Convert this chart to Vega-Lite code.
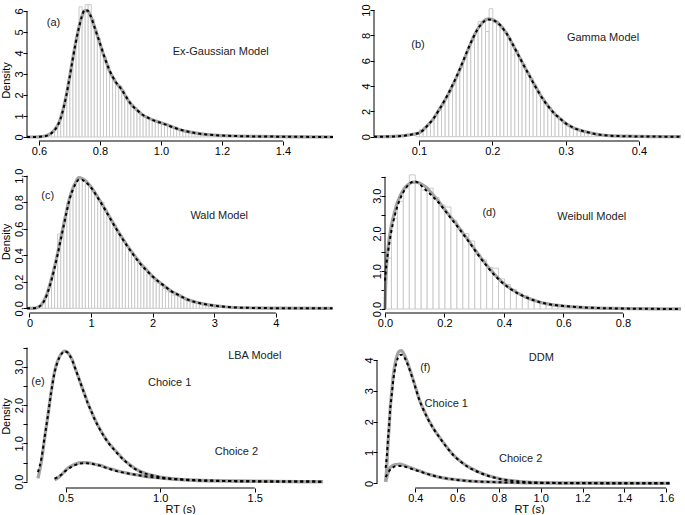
{
"$schema":"https://vega.github.io/schema/vega-lite/v6.json",
"padding":0,
"spacing":12,
"config":{
 "view":{"stroke":null},
 "font":"Liberation Sans",
 "axis":{"grid":false,"domain":false,"ticks":true,"tickColor":"black","tickSize":4,"tickWidth":1,"labelFont":"Liberation Sans","labelFontSize":11,"labelColor":"black","labelPadding":1,"labelOverlap":false,"labelFlush":false,"titleFont":"Liberation Sans","titleFontSize":11,"titleFontWeight":"normal","titleColor":"black"},
 "axisY":{"labelAngle":270,"labelAlign":"center","labelBaseline":"alphabetic","titlePadding":2,"labelOverlap":false},
 "axisX":{"labelAngle":0,"titlePadding":0,"labelPadding":0,"labelOverlap":false},
 "text":{"font":"Liberation Sans","fontSize":11,"color":"#222","align":"center","baseline":"middle"}
},
"datasets":{
 "ab":[{"b":0.62,"h":0.08},{"b":0.63,"h":0.15},{"b":0.64,"h":0.25},{"b":0.65,"h":0.45},{"b":0.66,"h":0.7},{"b":0.67,"h":1.1},{"b":0.68,"h":1.7},{"b":0.69,"h":2.4},{"b":0.7,"h":3.2},{"b":0.71,"h":4.1},{"b":0.72,"h":4.8},{"b":0.73,"h":6.2},{"b":0.74,"h":5.9},{"b":0.75,"h":6.3},{"b":0.76,"h":6.3},{"b":0.77,"h":5.6},{"b":0.78,"h":5.1},{"b":0.79,"h":4.7},{"b":0.8,"h":4.2},{"b":0.81,"h":3.8},{"b":0.82,"h":3.4},{"b":0.83,"h":3.0},{"b":0.84,"h":2.8},{"b":0.85,"h":2.55},{"b":0.86,"h":2.45},{"b":0.87,"h":2.2},{"b":0.88,"h":1.95},{"b":0.89,"h":1.7},{"b":0.9,"h":1.55},{"b":0.91,"h":1.4},{"b":0.92,"h":1.25},{"b":0.93,"h":1.1},{"b":0.94,"h":1.0},{"b":0.95,"h":0.92},{"b":0.96,"h":0.85},{"b":0.97,"h":0.8},{"b":0.98,"h":0.75},{"b":0.99,"h":0.7},{"b":1.0,"h":0.65},{"b":1.01,"h":0.6},{"b":1.02,"h":0.52},{"b":1.03,"h":0.46},{"b":1.04,"h":0.42},{"b":1.05,"h":0.36},{"b":1.06,"h":0.32},{"b":1.07,"h":0.28},{"b":1.08,"h":0.25},{"b":1.09,"h":0.22},{"b":1.1,"h":0.2},{"b":1.11,"h":0.17},{"b":1.12,"h":0.15},{"b":1.13,"h":0.12},{"b":1.14,"h":0.1},{"b":1.15,"h":0.09},{"b":1.16,"h":0.08},{"b":1.17,"h":0.06},{"b":1.18,"h":0.05},{"b":1.19,"h":0.04}],
 "ac":[{"x":0.561,"s":0,"d":0},{"x":0.6,"s":0.01,"d":0.01},{"x":0.62,"s":0.05,"d":0.04},{"x":0.64,"s":0.18,"d":0.17},{"x":0.65,"s":0.32,"d":0.3},{"x":0.66,"s":0.52,"d":0.5},{"x":0.67,"s":0.85,"d":0.84},{"x":0.68,"s":1.35,"d":1.33},{"x":0.69,"s":2.0,"d":1.98},{"x":0.7,"s":2.8,"d":2.78},{"x":0.71,"s":3.65,"d":3.62},{"x":0.72,"s":4.45,"d":4.44},{"x":0.73,"s":5.15,"d":5.13},{"x":0.74,"s":5.7,"d":5.7},{"x":0.75,"s":6.02,"d":6.05},{"x":0.76,"s":6.0,"d":6.02},{"x":0.77,"s":5.75,"d":5.75},{"x":0.78,"s":5.35,"d":5.33},{"x":0.79,"s":4.9,"d":4.9},{"x":0.8,"s":4.45,"d":4.47},{"x":0.81,"s":4.0,"d":4.02},{"x":0.82,"s":3.6,"d":3.6},{"x":0.83,"s":3.2,"d":3.22},{"x":0.84,"s":2.9,"d":2.92},{"x":0.85,"s":2.65,"d":2.66},{"x":0.86,"s":2.45,"d":2.47},{"x":0.87,"s":2.3,"d":2.28},{"x":0.88,"s":2.05,"d":2.06},{"x":0.89,"s":1.8,"d":1.82},{"x":0.9,"s":1.6,"d":1.6},{"x":0.92,"s":1.3,"d":1.3},{"x":0.94,"s":1.05,"d":1.06},{"x":0.96,"s":0.9,"d":0.9},{"x":0.98,"s":0.78,"d":0.77},{"x":1.0,"s":0.68,"d":0.67},{"x":1.02,"s":0.58,"d":0.57},{"x":1.04,"s":0.46,"d":0.46},{"x":1.06,"s":0.36,"d":0.36},{"x":1.08,"s":0.28,"d":0.29},{"x":1.1,"s":0.22,"d":0.22},{"x":1.12,"s":0.17,"d":0.17},{"x":1.15,"s":0.12,"d":0.12},{"x":1.2,"s":0.07,"d":0.07},{"x":1.25,"s":0.045,"d":0.045},{"x":1.3,"s":0.03,"d":0.03},{"x":1.4,"s":0.015,"d":0.015},{"x":1.5,"s":0.005,"d":0.005},{"x":1.564,"s":0,"d":0}],
 "bb":[{"b":0.095,"h":0.3},{"b":0.1,"h":0.55},{"b":0.105,"h":0.7},{"b":0.11,"h":0.95},{"b":0.115,"h":1.3},{"b":0.12,"h":1.7},{"b":0.125,"h":2.1},{"b":0.13,"h":2.6},{"b":0.135,"h":3.1},{"b":0.14,"h":3.6},{"b":0.145,"h":4.3},{"b":0.15,"h":4.9},{"b":0.155,"h":5.5},{"b":0.16,"h":6.3},{"b":0.165,"h":6.9},{"b":0.17,"h":7.6},{"b":0.175,"h":8.2},{"b":0.18,"h":9.1},{"b":0.185,"h":9.1},{"b":0.19,"h":8.3},{"b":0.195,"h":10.1},{"b":0.2,"h":9.0},{"b":0.205,"h":8.8},{"b":0.21,"h":8.7},{"b":0.215,"h":8.3},{"b":0.22,"h":7.8},{"b":0.225,"h":7.3},{"b":0.23,"h":6.8},{"b":0.235,"h":6.2},{"b":0.24,"h":5.7},{"b":0.245,"h":5.1},{"b":0.25,"h":4.6},{"b":0.255,"h":4.1},{"b":0.26,"h":3.6},{"b":0.265,"h":3.1},{"b":0.27,"h":2.7},{"b":0.275,"h":2.3},{"b":0.28,"h":2.0},{"b":0.285,"h":1.7},{"b":0.29,"h":1.4},{"b":0.295,"h":1.2},{"b":0.3,"h":0.95},{"b":0.305,"h":0.8},{"b":0.31,"h":0.65},{"b":0.315,"h":0.55},{"b":0.32,"h":0.45},{"b":0.325,"h":0.38},{"b":0.33,"h":0.3},{"b":0.335,"h":0.25},{"b":0.34,"h":0.2}],
 "bc":[{"x":0.0386,"s":0,"d":0},{"x":0.06,"s":0.01,"d":0.01},{"x":0.08,"s":0.08,"d":0.08},{"x":0.085,"s":0.12,"d":0.12},{"x":0.09,"s":0.17,"d":0.17},{"x":0.095,"s":0.22,"d":0.22},{"x":0.1,"s":0.3,"d":0.3},{"x":0.105,"s":0.5,"d":0.48},{"x":0.11,"s":0.8,"d":0.78},{"x":0.115,"s":1.1,"d":1.1},{"x":0.12,"s":1.45,"d":1.45},{"x":0.125,"s":1.9,"d":1.9},{"x":0.13,"s":2.35,"d":2.37},{"x":0.135,"s":2.85,"d":2.88},{"x":0.14,"s":3.35,"d":3.4},{"x":0.145,"s":3.95,"d":4.0},{"x":0.15,"s":4.55,"d":4.6},{"x":0.155,"s":5.2,"d":5.25},{"x":0.16,"s":5.9,"d":5.95},{"x":0.165,"s":6.6,"d":6.65},{"x":0.17,"s":7.3,"d":7.33},{"x":0.175,"s":7.95,"d":7.95},{"x":0.18,"s":8.5,"d":8.5},{"x":0.185,"s":8.9,"d":8.88},{"x":0.19,"s":9.2,"d":9.15},{"x":0.195,"s":9.3,"d":9.25},{"x":0.2,"s":9.25,"d":9.22},{"x":0.205,"s":9.1,"d":9.08},{"x":0.21,"s":8.85,"d":8.85},{"x":0.215,"s":8.5,"d":8.5},{"x":0.22,"s":8.1,"d":8.1},{"x":0.225,"s":7.6,"d":7.6},{"x":0.23,"s":7.05,"d":7.05},{"x":0.235,"s":6.5,"d":6.5},{"x":0.24,"s":5.95,"d":5.95},{"x":0.245,"s":5.4,"d":5.4},{"x":0.25,"s":4.9,"d":4.88},{"x":0.255,"s":4.35,"d":4.33},{"x":0.26,"s":3.85,"d":3.83},{"x":0.265,"s":3.35,"d":3.33},{"x":0.27,"s":2.9,"d":2.88},{"x":0.275,"s":2.5,"d":2.48},{"x":0.28,"s":2.15,"d":2.13},{"x":0.285,"s":1.8,"d":1.8},{"x":0.29,"s":1.55,"d":1.55},{"x":0.295,"s":1.3,"d":1.3},{"x":0.3,"s":1.05,"d":1.05},{"x":0.305,"s":0.88,"d":0.88},{"x":0.31,"s":0.72,"d":0.72},{"x":0.315,"s":0.6,"d":0.6},{"x":0.32,"s":0.5,"d":0.5},{"x":0.325,"s":0.42,"d":0.42},{"x":0.33,"s":0.35,"d":0.35},{"x":0.34,"s":0.22,"d":0.22},{"x":0.35,"s":0.13,"d":0.13},{"x":0.36,"s":0.08,"d":0.08},{"x":0.38,"s":0.04,"d":0.04},{"x":0.4,"s":0.02,"d":0.02},{"x":0.43,"s":0.005,"d":0.005},{"x":0.4574,"s":0,"d":0}],
 "cb":[{"b":0.15,"h":0.02},{"b":0.2,"h":0.05},{"b":0.25,"h":0.1},{"b":0.3,"h":0.17},{"b":0.35,"h":0.26},{"b":0.4,"h":0.35},{"b":0.45,"h":0.56},{"b":0.5,"h":0.58},{"b":0.55,"h":0.68},{"b":0.6,"h":0.79},{"b":0.65,"h":0.86},{"b":0.7,"h":0.93},{"b":0.75,"h":0.98},{"b":0.8,"h":0.98},{"b":0.85,"h":0.97},{"b":0.9,"h":0.94},{"b":0.95,"h":0.92},{"b":1.0,"h":0.88},{"b":1.05,"h":0.85},{"b":1.1,"h":0.81},{"b":1.15,"h":0.8},{"b":1.2,"h":0.75},{"b":1.25,"h":0.7},{"b":1.3,"h":0.66},{"b":1.35,"h":0.63},{"b":1.4,"h":0.58},{"b":1.45,"h":0.55},{"b":1.5,"h":0.5},{"b":1.55,"h":0.47},{"b":1.6,"h":0.44},{"b":1.65,"h":0.41},{"b":1.7,"h":0.38},{"b":1.75,"h":0.34},{"b":1.8,"h":0.31},{"b":1.85,"h":0.29},{"b":1.9,"h":0.26},{"b":1.95,"h":0.23},{"b":2.0,"h":0.2},{"b":2.05,"h":0.19},{"b":2.1,"h":0.17},{"b":2.15,"h":0.15},{"b":2.2,"h":0.13},{"b":2.25,"h":0.12},{"b":2.3,"h":0.1},{"b":2.35,"h":0.095},{"b":2.4,"h":0.09},{"b":2.45,"h":0.08},{"b":2.5,"h":0.065},{"b":2.55,"h":0.055},{"b":2.6,"h":0.05},{"b":2.65,"h":0.045},{"b":2.7,"h":0.04},{"b":2.75,"h":0.035},{"b":2.8,"h":0.03},{"b":2.85,"h":0.025},{"b":2.9,"h":0.02},{"b":2.95,"h":0.02},{"b":3.0,"h":0.015}],
 "cc":[{"x":-0.04,"s":0,"d":0},{"x":0.1,"s":0.002,"d":0.002},{"x":0.15,"s":0.01,"d":0.01},{"x":0.2,"s":0.03,"d":0.03},{"x":0.25,"s":0.07,"d":0.065},{"x":0.3,"s":0.13,"d":0.125},{"x":0.35,"s":0.21,"d":0.2},{"x":0.4,"s":0.3,"d":0.29},{"x":0.45,"s":0.4,"d":0.39},{"x":0.5,"s":0.51,"d":0.5},{"x":0.55,"s":0.62,"d":0.61},{"x":0.6,"s":0.73,"d":0.72},{"x":0.65,"s":0.83,"d":0.82},{"x":0.7,"s":0.9,"d":0.89},{"x":0.75,"s":0.95,"d":0.94},{"x":0.8,"s":0.985,"d":0.97},{"x":0.85,"s":0.98,"d":0.97},{"x":0.9,"s":0.965,"d":0.955},{"x":1.0,"s":0.915,"d":0.91},{"x":1.1,"s":0.845,"d":0.84},{"x":1.2,"s":0.77,"d":0.765},{"x":1.3,"s":0.69,"d":0.685},{"x":1.4,"s":0.61,"d":0.605},{"x":1.5,"s":0.535,"d":0.53},{"x":1.6,"s":0.465,"d":0.46},{"x":1.7,"s":0.4,"d":0.395},{"x":1.8,"s":0.34,"d":0.335},{"x":1.9,"s":0.29,"d":0.285},{"x":2.0,"s":0.24,"d":0.24},{"x":2.1,"s":0.2,"d":0.2},{"x":2.2,"s":0.165,"d":0.165},{"x":2.3,"s":0.13,"d":0.13},{"x":2.4,"s":0.105,"d":0.105},{"x":2.5,"s":0.08,"d":0.08},{"x":2.6,"s":0.06,"d":0.06},{"x":2.8,"s":0.035,"d":0.035},{"x":3.0,"s":0.02,"d":0.02},{"x":3.2,"s":0.01,"d":0.01},{"x":3.5,"s":0.004,"d":0.004},{"x":4.0,"s":0.001,"d":0.001},{"x":4.92,"s":0,"d":0}],
 "db":[{"b":0,"h":1.35},{"b":0.02,"h":2.4},{"b":0.04,"h":2.85},{"b":0.06,"h":3.2},{"b":0.08,"h":3.55},{"b":0.1,"h":3.35},{"b":0.12,"h":3.15},{"b":0.14,"h":3.2},{"b":0.16,"h":2.95},{"b":0.18,"h":2.75},{"b":0.2,"h":2.7},{"b":0.22,"h":2.35},{"b":0.24,"h":2.1},{"b":0.26,"h":2.0},{"b":0.28,"h":1.8},{"b":0.3,"h":1.45},{"b":0.32,"h":1.3},{"b":0.34,"h":1.1},{"b":0.36,"h":1.08},{"b":0.38,"h":0.8},{"b":0.4,"h":0.65},{"b":0.42,"h":0.52},{"b":0.44,"h":0.42},{"b":0.46,"h":0.35},{"b":0.48,"h":0.28},{"b":0.5,"h":0.22},{"b":0.52,"h":0.17},{"b":0.54,"h":0.14},{"b":0.56,"h":0.11},{"b":0.58,"h":0.09},{"b":0.6,"h":0.07},{"b":0.62,"h":0.06},{"b":0.64,"h":0.04},{"b":0.66,"h":0.03},{"b":0.68,"h":0.025}],
 "dc":[{"x":0,"s":0,"d":0.75},{"x":0.002,"s":0.6,"d":0.95},{"x":0.005,"s":1.1,"d":1.2},{"x":0.01,"s":1.6,"d":1.5},{"x":0.02,"s":2.15,"d":2.0},{"x":0.03,"s":2.5,"d":2.38},{"x":0.04,"s":2.78,"d":2.68},{"x":0.05,"s":2.98,"d":2.9},{"x":0.06,"s":3.13,"d":3.07},{"x":0.07,"s":3.24,"d":3.2},{"x":0.08,"s":3.31,"d":3.3},{"x":0.09,"s":3.35,"d":3.36},{"x":0.1,"s":3.36,"d":3.38},{"x":0.11,"s":3.35,"d":3.35},{"x":0.12,"s":3.32,"d":3.28},{"x":0.13,"s":3.27,"d":3.2},{"x":0.14,"s":3.21,"d":3.13},{"x":0.15,"s":3.13,"d":3.06},{"x":0.16,"s":3.04,"d":2.98},{"x":0.18,"s":2.85,"d":2.82},{"x":0.2,"s":2.64,"d":2.62},{"x":0.22,"s":2.44,"d":2.42},{"x":0.24,"s":2.25,"d":2.22},{"x":0.26,"s":2.03,"d":2.01},{"x":0.28,"s":1.82,"d":1.8},{"x":0.3,"s":1.6,"d":1.58},{"x":0.32,"s":1.38,"d":1.36},{"x":0.34,"s":1.18,"d":1.16},{"x":0.36,"s":0.99,"d":0.97},{"x":0.38,"s":0.82,"d":0.8},{"x":0.4,"s":0.67,"d":0.66},{"x":0.42,"s":0.55,"d":0.54},{"x":0.44,"s":0.45,"d":0.44},{"x":0.46,"s":0.36,"d":0.36},{"x":0.48,"s":0.29,"d":0.29},{"x":0.5,"s":0.23,"d":0.23},{"x":0.52,"s":0.18,"d":0.18},{"x":0.55,"s":0.13,"d":0.13},{"x":0.6,"s":0.08,"d":0.08},{"x":0.65,"s":0.05,"d":0.05},{"x":0.7,"s":0.03,"d":0.03},{"x":0.8,"s":0.012,"d":0.012},{"x":0.9,"s":0.004,"d":0.004},{"x":0.995,"s":0.001,"d":0.001}],
 "ec":[{"c":1,"x":0.353,"s":0.09,"d":0.25},{"c":1,"x":0.371,"s":0.52,"d":0.6},{"c":1,"x":0.388,"s":1.13,"d":1.15},{"c":1,"x":0.406,"s":1.74,"d":1.74},{"c":1,"x":0.423,"s":2.35,"d":2.33},{"c":1,"x":0.441,"s":2.87,"d":2.85},{"c":1,"x":0.455,"s":3.12,"d":3.1},{"c":1,"x":0.467,"s":3.26,"d":3.25},{"c":1,"x":0.48,"s":3.36,"d":3.35},{"c":1,"x":0.494,"s":3.41,"d":3.4},{"c":1,"x":0.507,"s":3.39,"d":3.38},{"c":1,"x":0.52,"s":3.31,"d":3.3},{"c":1,"x":0.535,"s":3.17,"d":3.16},{"c":1,"x":0.547,"s":3.0,"d":3.0},{"c":1,"x":0.565,"s":2.76,"d":2.75},{"c":1,"x":0.582,"s":2.52,"d":2.52},{"c":1,"x":0.6,"s":2.28,"d":2.27},{"c":1,"x":0.617,"s":2.05,"d":2.04},{"c":1,"x":0.635,"s":1.84,"d":1.84},{"c":1,"x":0.652,"s":1.65,"d":1.64},{"c":1,"x":0.67,"s":1.47,"d":1.46},{"c":1,"x":0.688,"s":1.31,"d":1.3},{"c":1,"x":0.705,"s":1.17,"d":1.16},{"c":1,"x":0.723,"s":1.04,"d":1.03},{"c":1,"x":0.75,"s":0.88,"d":0.87},{"c":1,"x":0.776,"s":0.74,"d":0.72},{"c":1,"x":0.8,"s":0.61,"d":0.6},{"c":1,"x":0.829,"s":0.48,"d":0.47},{"c":1,"x":0.855,"s":0.38,"d":0.37},{"c":1,"x":0.882,"s":0.3,"d":0.29},{"c":1,"x":0.92,"s":0.22,"d":0.21},{"c":1,"x":0.952,"s":0.175,"d":0.17},{"c":1,"x":0.99,"s":0.13,"d":0.13},{"c":1,"x":1.023,"s":0.1,"d":0.1},{"c":1,"x":1.1,"s":0.065,"d":0.065},{"c":1,"x":1.2,"s":0.04,"d":0.04},{"c":1,"x":1.3,"s":0.025,"d":0.025},{"c":1,"x":1.4,"s":0.015,"d":0.015},{"c":1,"x":1.6,"s":0.006,"d":0.006},{"c":1,"x":1.86,"s":0.002,"d":0.002},
  {"c":2,"x":0.441,"s":0.05,"d":0.08},{"c":2,"x":0.458,"s":0.1,"d":0.12},{"c":2,"x":0.476,"s":0.175,"d":0.18},{"c":2,"x":0.494,"s":0.27,"d":0.26},{"c":2,"x":0.511,"s":0.35,"d":0.33},{"c":2,"x":0.53,"s":0.41,"d":0.39},{"c":2,"x":0.547,"s":0.45,"d":0.43},{"c":2,"x":0.57,"s":0.49,"d":0.47},{"c":2,"x":0.591,"s":0.5,"d":0.48},{"c":2,"x":0.612,"s":0.5,"d":0.48},{"c":2,"x":0.635,"s":0.48,"d":0.47},{"c":2,"x":0.66,"s":0.45,"d":0.44},{"c":2,"x":0.688,"s":0.42,"d":0.41},{"c":2,"x":0.715,"s":0.37,"d":0.36},{"c":2,"x":0.741,"s":0.33,"d":0.32},{"c":2,"x":0.775,"s":0.28,"d":0.27},{"c":2,"x":0.811,"s":0.24,"d":0.23},{"c":2,"x":0.845,"s":0.2,"d":0.2},{"c":2,"x":0.882,"s":0.175,"d":0.17},{"c":2,"x":0.92,"s":0.14,"d":0.14},{"c":2,"x":0.97,"s":0.11,"d":0.11},{"c":2,"x":1.02,"s":0.085,"d":0.085},{"c":2,"x":1.076,"s":0.065,"d":0.065},{"c":2,"x":1.2,"s":0.03,"d":0.03},{"c":2,"x":1.376,"s":0.017,"d":0.017},{"c":2,"x":1.6,"s":0.007,"d":0.007},{"c":2,"x":1.86,"s":0.002,"d":0.002}],
 "fc":[{"c":1,"x":0.258,"s":0.05,"d":0.5},{"c":1,"x":0.264,"s":0.6,"d":0.9},{"c":1,"x":0.269,"s":1.24,"d":1.4},{"c":1,"x":0.275,"s":1.85,"d":1.9},{"c":1,"x":0.28,"s":2.43,"d":2.4},{"c":1,"x":0.287,"s":2.95,"d":2.85},{"c":1,"x":0.293,"s":3.4,"d":3.25},{"c":1,"x":0.3,"s":3.75,"d":3.6},{"c":1,"x":0.309,"s":4.05,"d":3.9},{"c":1,"x":0.317,"s":4.22,"d":4.07},{"c":1,"x":0.325,"s":4.29,"d":4.15},{"c":1,"x":0.333,"s":4.3,"d":4.17},{"c":1,"x":0.341,"s":4.25,"d":4.15},{"c":1,"x":0.352,"s":4.1,"d":4.03},{"c":1,"x":0.364,"s":3.89,"d":3.85},{"c":1,"x":0.376,"s":3.65,"d":3.62},{"c":1,"x":0.388,"s":3.4,"d":3.38},{"c":1,"x":0.404,"s":3.05,"d":3.03},{"c":1,"x":0.42,"s":2.7,"d":2.69},{"c":1,"x":0.44,"s":2.38,"d":2.37},{"c":1,"x":0.46,"s":2.1,"d":2.09},{"c":1,"x":0.485,"s":1.8,"d":1.79},{"c":1,"x":0.508,"s":1.57,"d":1.56},{"c":1,"x":0.53,"s":1.36,"d":1.35},{"c":1,"x":0.556,"s":1.13,"d":1.12},{"c":1,"x":0.585,"s":0.9,"d":0.89},{"c":1,"x":0.619,"s":0.7,"d":0.69},{"c":1,"x":0.65,"s":0.55,"d":0.54},{"c":1,"x":0.683,"s":0.43,"d":0.42},{"c":1,"x":0.72,"s":0.32,"d":0.31},{"c":1,"x":0.763,"s":0.22,"d":0.21},{"c":1,"x":0.81,"s":0.14,"d":0.135},{"c":1,"x":0.859,"s":0.085,"d":0.08},{"c":1,"x":0.91,"s":0.05,"d":0.05},{"c":1,"x":0.955,"s":0.03,"d":0.03},{"c":1,"x":1.05,"s":0.015,"d":0.015},{"c":1,"x":1.146,"s":0.01,"d":0.01},{"c":1,"x":1.3,"s":0.005,"d":0.005},{"c":1,"x":1.617,"s":0.001,"d":0.001},
  {"c":2,"x":0.258,"s":0.05,"d":0.2},{"c":2,"x":0.266,"s":0.25,"d":0.3},{"c":2,"x":0.277,"s":0.48,"d":0.42},{"c":2,"x":0.29,"s":0.57,"d":0.5},{"c":2,"x":0.305,"s":0.61,"d":0.55},{"c":2,"x":0.325,"s":0.62,"d":0.56},{"c":2,"x":0.345,"s":0.59,"d":0.55},{"c":2,"x":0.364,"s":0.54,"d":0.51},{"c":2,"x":0.39,"s":0.47,"d":0.45},{"c":2,"x":0.428,"s":0.38,"d":0.37},{"c":2,"x":0.465,"s":0.29,"d":0.29},{"c":2,"x":0.508,"s":0.21,"d":0.21},{"c":2,"x":0.547,"s":0.16,"d":0.16},{"c":2,"x":0.587,"s":0.125,"d":0.12},{"c":2,"x":0.627,"s":0.095,"d":0.09},{"c":2,"x":0.667,"s":0.07,"d":0.07},{"c":2,"x":0.75,"s":0.045,"d":0.045},{"c":2,"x":0.827,"s":0.03,"d":0.03},{"c":2,"x":0.9,"s":0.02,"d":0.02},{"c":2,"x":0.987,"s":0.01,"d":0.01},{"c":2,"x":1.2,"s":0.004,"d":0.004},{"c":2,"x":1.617,"s":0.001,"d":0.001}]
},
"vconcat":[
 {"hconcat":[
  {"width":306,"height":141,"layer":[
   {"data":{"name":"ab"},"mark":{"type":"bar","fill":"white","stroke":"#cacaca","strokeWidth":1,"binSpacing":0},"encoding":{
     "x":{"field":"b","type":"quantitative","bin":{"binned":true,"step":0.01},"scale":{"domain":[0.561,1.564],"nice":false,"zero":false},"axis":{"values":[0.6,0.8,1.0,1.2,1.4],"tickCount":30,"format":".1f","title":null,"labelOverlap":false}},
     "y":{"field":"h","type":"quantitative","scale":{"domain":[-0.19,6.524],"nice":false,"zero":false},"axis":{"values":[0,1,2,3,4,5,6],"tickCount":30,"format":"d","title":"Density","titleY":80,"labelOverlap":false}},
     "y2":{"datum":0}}},
   {"data":{"name":"ac"},"mark":{"type":"line","color":"#a3a3a3","strokeWidth":3.2,"interpolate":"monotone"},"encoding":{"x":{"field":"x","type":"quantitative"},"y":{"field":"s","type":"quantitative"}}},
   {"data":{"name":"ac"},"mark":{"type":"line","color":"black","strokeWidth":2,"strokeDash":[3,3],"interpolate":"monotone"},"encoding":{"x":{"field":"x","type":"quantitative"},"y":{"field":"d","type":"quantitative"}}},
   {"data":{"values":[{}]},"mark":{"type":"rule","color":"black"},"encoding":{"x":{"datum":0.6},"x2":{"datum":1.4},"y":{"datum":-0.19}}},
   {"data":{"values":[{}]},"mark":{"type":"rule","color":"black"},"encoding":{"x":{"datum":0.561},"y":{"datum":0},"y2":{"datum":6}}},
   {"data":{"values":[{}]},"mark":{"type":"text","text":"(a)"},"encoding":{"x":{"datum":0.648},"y":{"datum":5.44}}},
   {"data":{"values":[{}]},"mark":{"type":"text","text":"Ex-Gaussian Model"},"encoding":{"x":{"datum":1.196},"y":{"datum":4.06}}}
  ]},
  {"width":307,"height":141,"layer":[
   {"data":{"name":"bb"},"mark":{"type":"bar","fill":"white","stroke":"#cacaca","strokeWidth":1,"binSpacing":0},"encoding":{
     "x":{"field":"b","type":"quantitative","bin":{"binned":true,"step":0.005},"scale":{"domain":[0.0386,0.4574],"nice":false,"zero":false},"axis":{"values":[0.1,0.2,0.3,0.4],"tickCount":30,"format":".1f","title":null,"labelOverlap":false}},
     "y":{"field":"h","type":"quantitative","scale":{"domain":[-0.34,10.79],"nice":false,"zero":false},"axis":{"values":[0,2,4,6,8,10],"tickCount":30,"format":"d","title":null,"labelOverlap":false}},
     "y2":{"datum":0}}},
   {"data":{"name":"bc"},"mark":{"type":"line","color":"#a3a3a3","strokeWidth":3.2,"interpolate":"monotone"},"encoding":{"x":{"field":"x","type":"quantitative"},"y":{"field":"s","type":"quantitative"}}},
   {"data":{"name":"bc"},"mark":{"type":"line","color":"black","strokeWidth":2,"strokeDash":[3,3],"interpolate":"monotone"},"encoding":{"x":{"field":"x","type":"quantitative"},"y":{"field":"d","type":"quantitative"}}},
   {"data":{"values":[{}]},"mark":{"type":"rule","color":"black"},"encoding":{"x":{"datum":0.1},"x2":{"datum":0.4},"y":{"datum":-0.34}}},
   {"data":{"values":[{}]},"mark":{"type":"rule","color":"black"},"encoding":{"x":{"datum":0.0386},"y":{"datum":0},"y2":{"datum":10}}},
   {"data":{"values":[{}]},"mark":{"type":"text","text":"(b)"},"encoding":{"x":{"datum":0.0986},"y":{"datum":7.24}}},
   {"data":{"values":[{}]},"mark":{"type":"text","text":"Gamma Model"},"encoding":{"x":{"datum":0.351},"y":{"datum":7.77}}}
  ]}
 ],"spacing":41,"bounds":"flush"},
 {"spacing":16,"vconcat":[
 {"hconcat":[
  {"width":306,"height":143,"layer":[
   {"data":{"name":"cb"},"mark":{"type":"bar","fill":"white","stroke":"#cacaca","strokeWidth":1,"binSpacing":0},"encoding":{
     "x":{"field":"b","type":"quantitative","bin":{"binned":true,"step":0.05},"scale":{"domain":[-0.04,4.927],"nice":false,"zero":false},"axis":{"values":[0,1,2,3,4],"tickCount":30,"format":"d","title":null,"labelOverlap":false}},
     "y":{"field":"h","type":"quantitative","scale":{"domain":[-0.0354,1.043],"nice":false,"zero":false},"axis":{"values":[0,0.2,0.4,0.6,0.8,1.0],"tickCount":30,"format":".1f","title":"Density","labelOverlap":false}},
     "y2":{"datum":0}}},
   {"data":{"name":"cc"},"mark":{"type":"line","color":"#a3a3a3","strokeWidth":3.2,"interpolate":"monotone"},"encoding":{"x":{"field":"x","type":"quantitative"},"y":{"field":"s","type":"quantitative"}}},
   {"data":{"name":"cc"},"mark":{"type":"line","color":"black","strokeWidth":2,"strokeDash":[3,3],"interpolate":"monotone"},"encoding":{"x":{"field":"x","type":"quantitative"},"y":{"field":"d","type":"quantitative"}}},
   {"data":{"values":[{}]},"mark":{"type":"rule","color":"black"},"encoding":{"x":{"datum":0},"x2":{"datum":4},"y":{"datum":-0.0354}}},
   {"data":{"values":[{}]},"mark":{"type":"rule","color":"black"},"encoding":{"x":{"datum":-0.04},"y":{"datum":0},"y2":{"datum":1}}},
   {"data":{"values":[{}]},"mark":{"type":"text","text":"(c)"},"encoding":{"x":{"datum":0.297},"y":{"datum":0.845}}},
   {"data":{"values":[{}]},"mark":{"type":"text","text":"Wald Model"},"encoding":{"x":{"datum":3.08},"y":{"datum":0.694}}}
  ]},
  {"width":296,"height":143,"layer":[
   {"data":{"name":"db"},"mark":{"type":"bar","fill":"white","stroke":"#cacaca","strokeWidth":1,"binSpacing":0},"encoding":{
     "x":{"field":"b","type":"quantitative","bin":{"binned":true,"step":0.02},"scale":{"domain":[0,0.995],"nice":false,"zero":false},"axis":{"values":[0,0.2,0.4,0.6,0.8],"tickCount":30,"format":".1f","title":null,"labelOverlap":false}},
     "y":{"field":"h","type":"quantitative","scale":{"domain":[-0.106,3.68],"nice":false,"zero":false},"axis":{"values":[0,0.5,1,1.5,2,2.5,3,3.5],"tickCount":30,"labelExpr":"datum.value % 1 === 0 ? format(datum.value, '.1f') : ''","title":null,"labelOverlap":false}},
     "y2":{"datum":0}}},
   {"data":{"name":"dc"},"mark":{"type":"line","color":"#a3a3a3","strokeWidth":3.2,"interpolate":"monotone"},"encoding":{"x":{"field":"x","type":"quantitative"},"y":{"field":"s","type":"quantitative"}}},
   {"data":{"name":"dc"},"mark":{"type":"line","color":"black","strokeWidth":2,"strokeDash":[3,3],"interpolate":"monotone"},"encoding":{"x":{"field":"x","type":"quantitative"},"y":{"field":"d","type":"quantitative"}}},
   {"data":{"values":[{}]},"mark":{"type":"rule","color":"black"},"encoding":{"x":{"datum":0},"x2":{"datum":0.8},"y":{"datum":-0.106}}},
   {"data":{"values":[{}]},"mark":{"type":"rule","color":"black"},"encoding":{"x":{"datum":0},"y":{"datum":0},"y2":{"datum":3.5}}},
   {"data":{"values":[{}]},"mark":{"type":"text","text":"(d)"},"encoding":{"x":{"datum":0.35},"y":{"datum":2.53}}},
   {"data":{"values":[{}]},"mark":{"type":"text","text":"Weibull Model"},"encoding":{"x":{"datum":0.695},"y":{"datum":2.43}}}
  ]}
 ],"spacing":52,"bounds":"flush"},
 {"hconcat":[
  {"width":306,"height":144,"layer":[
   {"data":{"name":"ec"},"mark":{"type":"line","color":"#a3a3a3","strokeWidth":3.2,"interpolate":"monotone"},"encoding":{
     "x":{"field":"x","type":"quantitative","scale":{"domain":[0.295,1.914],"nice":false,"zero":false},"axis":{"values":[0.5,1.0,1.5],"tickCount":30,"format":".1f","title":"RT (s)","labelOverlap":false}},
     "y":{"field":"s","type":"quantitative","scale":{"domain":[-0.164,3.593],"nice":false,"zero":false},"axis":{"values":[0,0.5,1,1.5,2,2.5,3,3.5],"tickCount":30,"labelExpr":"datum.value % 1 === 0 ? format(datum.value, '.1f') : ''","title":"Density","labelOverlap":false}},
     "detail":{"field":"c"}}},
   {"data":{"name":"ec"},"mark":{"type":"line","color":"black","strokeWidth":2,"strokeDash":[3,3],"interpolate":"monotone"},"encoding":{"x":{"field":"x","type":"quantitative"},"y":{"field":"d","type":"quantitative"},"detail":{"field":"c"}}},
   {"data":{"values":[{}]},"mark":{"type":"rule","color":"black"},"encoding":{"x":{"datum":0.5},"x2":{"datum":1.5},"y":{"datum":-0.164}}},
   {"data":{"values":[{}]},"mark":{"type":"rule","color":"black"},"encoding":{"x":{"datum":0.295},"y":{"datum":0},"y2":{"datum":3.5}}},
   {"data":{"values":[{}]},"mark":{"type":"text","text":"(e)"},"encoding":{"x":{"datum":0.353},"y":{"datum":2.59}}},
   {"data":{"values":[{}]},"mark":{"type":"text","text":"LBA Model"},"encoding":{"x":{"datum":1.5},"y":{"datum":3.29}}},
   {"data":{"values":[{}]},"mark":{"type":"text","text":"Choice 1"},"encoding":{"x":{"datum":1.05},"y":{"datum":2.58}}},
   {"data":{"values":[{}]},"mark":{"type":"text","text":"Choice 2"},"encoding":{"x":{"datum":1.403},"y":{"datum":0.767}}}
  ]},
  {"width":304,"height":144,"layer":[
   {"data":{"name":"fc"},"mark":{"type":"line","color":"#a3a3a3","strokeWidth":3.2,"interpolate":"monotone"},"encoding":{
     "x":{"field":"x","type":"quantitative","scale":{"domain":[0.2167,1.6713],"nice":false,"zero":false},"axis":{"values":[0.4,0.6,0.8,1.0,1.2,1.4,1.6],"tickCount":30,"format":".1f","title":"RT (s)","labelOverlap":false}},
     "y":{"field":"s","type":"quantitative","scale":{"domain":[-0.152,4.518],"nice":false,"zero":false},"axis":{"values":[0,1,2,3,4],"tickCount":30,"format":"d","title":null,"labelOverlap":false}},
     "detail":{"field":"c"}}},
   {"data":{"name":"fc"},"mark":{"type":"line","color":"black","strokeWidth":2,"strokeDash":[3,3],"interpolate":"monotone"},"encoding":{"x":{"field":"x","type":"quantitative"},"y":{"field":"d","type":"quantitative"},"detail":{"field":"c"}}},
   {"data":{"values":[{}]},"mark":{"type":"rule","color":"black"},"encoding":{"x":{"datum":0.4},"x2":{"datum":1.6},"y":{"datum":-0.152}}},
   {"data":{"values":[{}]},"mark":{"type":"rule","color":"black"},"encoding":{"x":{"datum":0.2167},"y":{"datum":0},"y2":{"datum":4}}},
   {"data":{"values":[{}]},"mark":{"type":"text","text":"(f)"},"encoding":{"x":{"datum":0.448},"y":{"datum":3.73}}},
   {"data":{"values":[{}]},"mark":{"type":"text","text":"DDM"},"encoding":{"x":{"datum":1.003},"y":{"datum":4.07}}},
   {"data":{"values":[{}]},"mark":{"type":"text","text":"Choice 1"},"encoding":{"x":{"datum":0.548},"y":{"datum":2.57}}},
   {"data":{"values":[{}]},"mark":{"type":"text","text":"Choice 2"},"encoding":{"x":{"datum":0.904},"y":{"datum":0.79}}}
  ]}
 ],"spacing":44,"bounds":"flush"}
 ]}
]
}
